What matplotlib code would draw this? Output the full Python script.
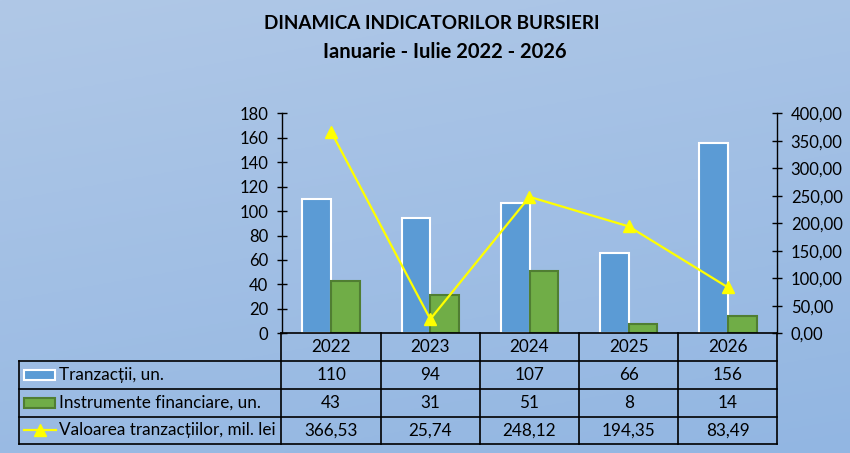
import matplotlib
matplotlib.use("Agg")
import matplotlib.pyplot as plt
import numpy as np
from matplotlib.patches import Rectangle

years = ["2022", "2023", "2024", "2025", "2026"]
tranzactii = [110, 94, 107, 66, 156]
instrumente = [43, 31, 51, 8, 14]
valoarea = [366.53, 25.74, 248.12, 194.35, 83.49]
valoarea_labels = ["366,53", "25,74", "248,12", "194,35", "83,49"]
series_names = ["Tranzacții, un.", "Instrumente financiare, un.", "Valoarea tranzacțiilor, mil. lei"]
title_lines = ["DINAMICA INDICATORILOR BURSIERI", "Ianuarie - Iulie 2022 - 2026"]
left_ticks = list(range(0, 181, 20))
right_ticks = list(range(0, 401, 50))

plt.rcParams['font.family'] = ['Lato', 'DejaVu Sans']

W, H = 850, 453
fig = plt.figure(figsize=(W / 100, H / 100), dpi=100)

# background gradient
bg = fig.add_axes([0, 0, 1, 1], zorder=-10)
yy, xx = np.mgrid[0:1:200j, 0:1:200j]
t = (0.75 * yy + 0.25 * xx)
c_top = np.array([0xb0, 0xc8, 0xe7]) / 255
c_bot = np.array([0x92, 0xb6, 0xe2]) / 255
img = c_top[None, None, :] * (1 - t[..., None]) + c_bot[None, None, :] * t[..., None]
bg.imshow(img, aspect='auto', extent=[0, 1, 1, 0])
bg.set_xlim(0, 1); bg.set_ylim(1, 0)
bg.axis('off')

def fx(px):
    return px / W

def fy(py):
    return 1 - py / H

x0, x1 = 281.5, 777.5
y_top, y_bot = 113.3, 333.3
ax = fig.add_axes([fx(x0), fy(y_bot), fx(x1) - fx(x0), fy(y_top) - fy(y_bot)])
ax.patch.set_alpha(0)
n = len(years)
x = np.arange(n)
bw = 0.29
ax.bar(x - bw / 2, tranzactii, width=bw, color='#5b9bd5', edgecolor='white', linewidth=1.5, zorder=3)
ax.bar(x + bw / 2, instrumente, width=bw, color='#70ad47', edgecolor='#507e32', linewidth=1.5, zorder=3)
ax.set_xlim(-0.5, n - 0.5)
ax.set_ylim(0, 180)
ax.set_yticks(left_ticks)
ax.set_xticks([])
for s in ['top', 'right', 'bottom']:
    ax.spines[s].set_visible(False)
ax.spines['left'].set_linewidth(1)
ax.tick_params(axis='y', direction='inout', length=7, width=1, pad=6, labelsize=12, colors='black')

ax2 = ax.twinx()
ax2.plot(x, valoarea, color='#ffff00', linewidth=1.6, marker='^', markersize=8, zorder=5)
ax2.set_ylim(0, 400)
ax2.set_yticks(right_ticks)
ax2.set_yticklabels([f"{v},00" for v in right_ticks])
for s in ['top', 'left', 'bottom']:
    ax2.spines[s].set_visible(False)
ax2.spines['right'].set_linewidth(1)
ax2.tick_params(axis='y', direction='inout', length=7, width=1, pad=6, labelsize=12, colors='black')

# titles
fig.text(fx(432), fy(23.5), title_lines[0], ha='center', va='center', fontsize=13.6, fontweight='bold')
fig.text(fx(445), fy(51.5), title_lines[1], ha='center', va='center', fontsize=14.5, fontweight='bold')

# table
lax = fig.add_axes([0, 0, 1, 1], zorder=5)
lax.set_xlim(0, W); lax.set_ylim(H, 0)
lax.axis('off')
col_x = np.linspace(x0, x1, n + 1)
row_y = [333.3, 360.7, 388.7, 416.7, 444.3]
lw = 1.2
lax.plot([x0, x1], [row_y[0], row_y[0]], color='black', lw=lw)
for yv in row_y[1:]:
    lax.plot([19.5, x1], [yv, yv], color='black', lw=lw)
lax.plot([19.5, 19.5], [row_y[1], row_y[-1]], color='black', lw=lw)
for cx in col_x:
    lax.plot([cx, cx], [row_y[0], row_y[-1]], color='black', lw=lw)

fs = 12.3
for i in range(n):
    cx = (col_x[i] + col_x[i + 1]) / 2
    lax.text(cx, (row_y[0] + row_y[1]) / 2, years[i], ha='center', va='center', fontsize=fs)
    lax.text(cx, (row_y[1] + row_y[2]) / 2, str(tranzactii[i]), ha='center', va='center', fontsize=fs)
    lax.text(cx, (row_y[2] + row_y[3]) / 2, str(instrumente[i]), ha='center', va='center', fontsize=fs)
    lax.text(cx, (row_y[3] + row_y[4]) / 2, valoarea_labels[i], ha='center', va='center', fontsize=fs)

for r in range(3):
    cy = (row_y[r + 1] + row_y[r + 2]) / 2
    lax.text(59, cy, series_names[r], ha='left', va='center', fontsize=fs)

lax.add_patch(Rectangle((24, 370), 31, 10, facecolor='#5b9bd5', edgecolor='white', lw=1.5))
lax.add_patch(Rectangle((24, 397.5), 31, 10, facecolor='#70ad47', edgecolor='#507e32', lw=1.5))
lax.plot([24, 56], [429.5, 429.5], color='#ffff00', lw=1.6)
lax.plot([40], [429.5], marker='^', color='#ffff00', markersize=8)

fig.savefig("out.png", dpi=100)
